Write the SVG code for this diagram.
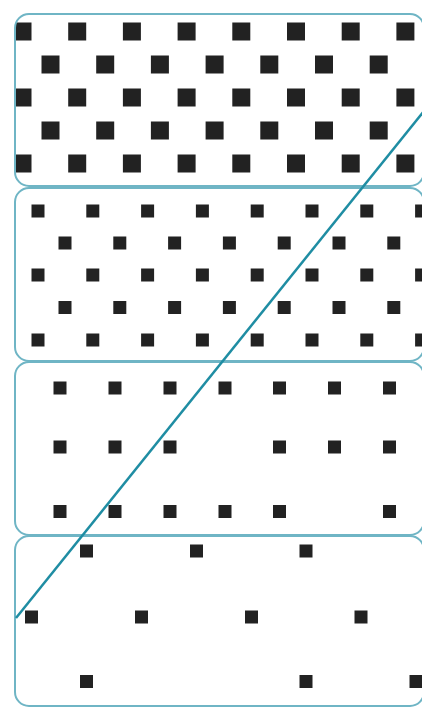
<svg xmlns="http://www.w3.org/2000/svg" width="422" height="708" viewBox="0 0 422 708">
<style>
.box{fill:none;stroke:#6fb5c5;stroke-width:2}
.d1{fill:#222}
.conn{stroke:#1f8da3;stroke-width:2.5;fill:none}
</style>
<defs>
<rect id="s18" x="-9" y="-9" width="18" height="18"/>
<rect id="s13" x="-6.5" y="-6.5" width="13" height="13"/>
<clipPath id="c1"><rect x="15" y="14" width="409" height="172" rx="14"/></clipPath>
<clipPath id="c2"><rect x="15" y="188" width="409" height="173" rx="14"/></clipPath>
<clipPath id="c3"><rect x="15" y="362" width="409" height="173" rx="14"/></clipPath>
<clipPath id="c4"><rect x="15" y="536" width="409" height="170" rx="14"/></clipPath>
</defs>
<rect width="422" height="708" fill="#fff"/>
<g id="panel1">
<g class="d1" clip-path="url(#c1)">
<use href="#s18" x="22.5" y="31.5"/><use href="#s18" x="77.2" y="31.5"/><use href="#s18" x="131.9" y="31.5"/><use href="#s18" x="186.6" y="31.5"/><use href="#s18" x="241.3" y="31.5"/><use href="#s18" x="296" y="31.5"/><use href="#s18" x="350.7" y="31.5"/><use href="#s18" x="405.4" y="31.5"/>
<use href="#s18" x="50.5" y="64.5"/><use href="#s18" x="105.2" y="64.5"/><use href="#s18" x="159.9" y="64.5"/><use href="#s18" x="214.6" y="64.5"/><use href="#s18" x="269.3" y="64.5"/><use href="#s18" x="324" y="64.5"/><use href="#s18" x="378.7" y="64.5"/>
<use href="#s18" x="22.5" y="97.5"/><use href="#s18" x="77.2" y="97.5"/><use href="#s18" x="131.9" y="97.5"/><use href="#s18" x="186.6" y="97.5"/><use href="#s18" x="241.3" y="97.5"/><use href="#s18" x="296" y="97.5"/><use href="#s18" x="350.7" y="97.5"/><use href="#s18" x="405.4" y="97.5"/>
<use href="#s18" x="50.5" y="130.5"/><use href="#s18" x="105.2" y="130.5"/><use href="#s18" x="159.9" y="130.5"/><use href="#s18" x="214.6" y="130.5"/><use href="#s18" x="269.3" y="130.5"/><use href="#s18" x="324" y="130.5"/><use href="#s18" x="378.7" y="130.5"/>
<use href="#s18" x="22.5" y="163.5"/><use href="#s18" x="77.2" y="163.5"/><use href="#s18" x="131.9" y="163.5"/><use href="#s18" x="186.6" y="163.5"/><use href="#s18" x="241.3" y="163.5"/><use href="#s18" x="296" y="163.5"/><use href="#s18" x="350.7" y="163.5"/><use href="#s18" x="405.4" y="163.5"/>
</g>
<rect class="box" x="15" y="14" width="409" height="172" rx="14"/>
</g>
<g id="panel2">
<g class="d1" clip-path="url(#c2)">
<use href="#s13" x="38" y="211"/><use href="#s13" x="92.8" y="211"/><use href="#s13" x="147.6" y="211"/><use href="#s13" x="202.4" y="211"/><use href="#s13" x="257.2" y="211"/><use href="#s13" x="312" y="211"/><use href="#s13" x="366.8" y="211"/><use href="#s13" x="421.6" y="211"/>
<use href="#s13" x="65" y="243"/><use href="#s13" x="119.8" y="243"/><use href="#s13" x="174.6" y="243"/><use href="#s13" x="229.4" y="243"/><use href="#s13" x="284.2" y="243"/><use href="#s13" x="339" y="243"/><use href="#s13" x="393.8" y="243"/>
<use href="#s13" x="38" y="275"/><use href="#s13" x="92.8" y="275"/><use href="#s13" x="147.6" y="275"/><use href="#s13" x="202.4" y="275"/><use href="#s13" x="257.2" y="275"/><use href="#s13" x="312" y="275"/><use href="#s13" x="366.8" y="275"/><use href="#s13" x="421.6" y="275"/>
<use href="#s13" x="65" y="307.5"/><use href="#s13" x="119.8" y="307.5"/><use href="#s13" x="174.6" y="307.5"/><use href="#s13" x="229.4" y="307.5"/><use href="#s13" x="284.2" y="307.5"/><use href="#s13" x="339" y="307.5"/><use href="#s13" x="393.8" y="307.5"/>
<use href="#s13" x="38" y="340"/><use href="#s13" x="92.8" y="340"/><use href="#s13" x="147.6" y="340"/><use href="#s13" x="202.4" y="340"/><use href="#s13" x="257.2" y="340"/><use href="#s13" x="312" y="340"/><use href="#s13" x="366.8" y="340"/><use href="#s13" x="421.6" y="340"/>
</g>
<rect class="box" x="15" y="188" width="409" height="173" rx="14"/>
</g>
<g id="panel3">
<g class="d1" clip-path="url(#c3)">
<use href="#s13" x="60" y="388"/><use href="#s13" x="115" y="388"/><use href="#s13" x="170" y="388"/><use href="#s13" x="225" y="388"/><use href="#s13" x="279.5" y="388"/><use href="#s13" x="334.5" y="388"/><use href="#s13" x="389.5" y="388"/>
<use href="#s13" x="60" y="447"/><use href="#s13" x="115" y="447"/><use href="#s13" x="170" y="447"/><use href="#s13" x="279.5" y="447"/><use href="#s13" x="334.5" y="447"/><use href="#s13" x="389.5" y="447"/>
<use href="#s13" x="60" y="511.5"/><use href="#s13" x="115" y="511.5"/><use href="#s13" x="170" y="511.5"/><use href="#s13" x="225" y="511.5"/><use href="#s13" x="279.5" y="511.5"/><use href="#s13" x="389.5" y="511.5"/>
</g>
<rect class="box" x="15" y="362" width="409" height="173" rx="14"/>
</g>
<g id="panel4">
<g class="d1" clip-path="url(#c4)">
<use href="#s13" x="86.5" y="551"/><use href="#s13" x="196.5" y="551"/><use href="#s13" x="306" y="551"/>
<use href="#s13" x="31.5" y="617"/><use href="#s13" x="141.5" y="617"/><use href="#s13" x="251.5" y="617"/><use href="#s13" x="361" y="617"/>
<use href="#s13" x="86.5" y="681.5"/><use href="#s13" x="306" y="681.5"/><use href="#s13" x="416" y="681.5"/>
</g>
<rect class="box" x="15" y="536" width="409" height="170" rx="14"/>
</g>
<g id="connectors">
<line class="conn" x1="16" y1="618" x2="424" y2="111"/>
</g>
</svg>
